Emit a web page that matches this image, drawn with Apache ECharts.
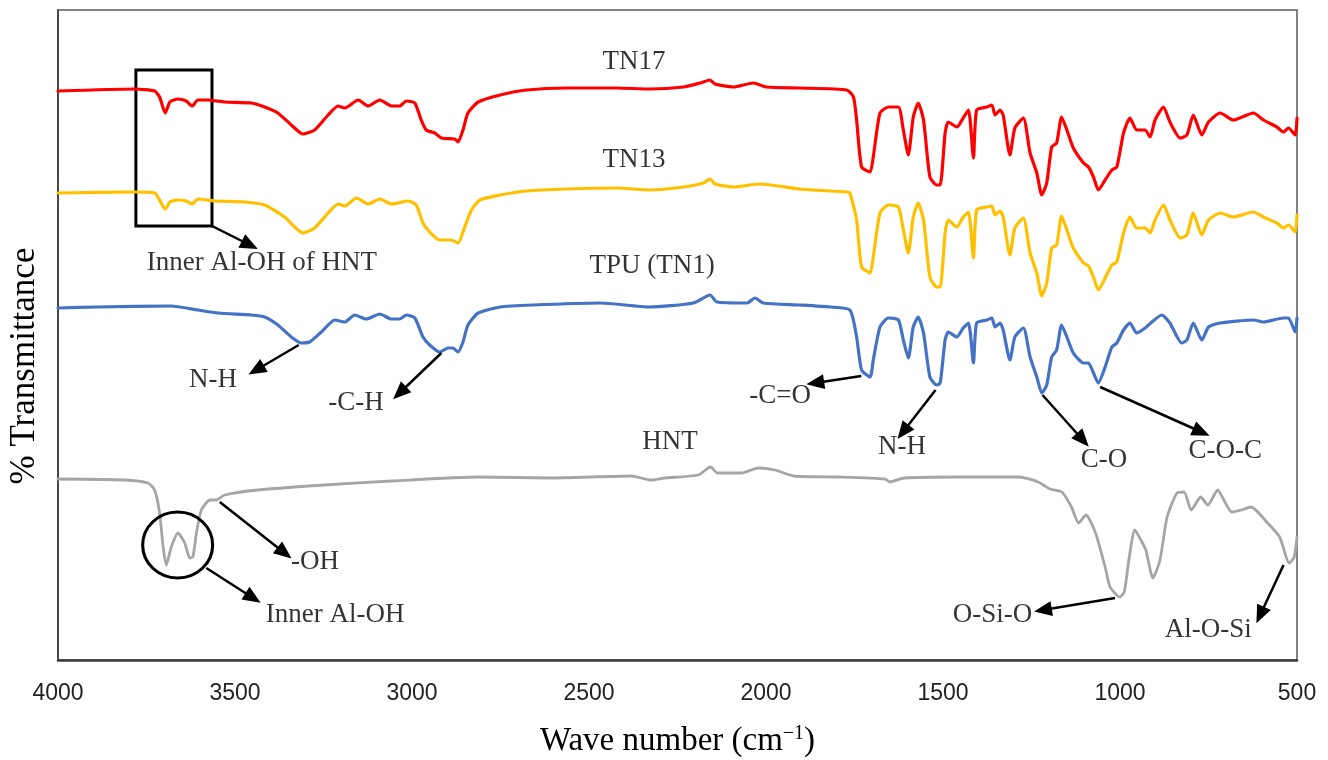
<!DOCTYPE html>
<html>
<head>
<meta charset="utf-8">
<title>FTIR spectra</title>
<script src="https://cdn.jsdelivr.net/npm/echarts@6/dist/echarts.min.js"></script>
<style>
  html, body { margin: 0; padding: 0; background: #fff; }
  #chart { width: 1328px; height: 760px; }
</style>
</head>
<body>
<div id="chart"></div>
<script>
// Wave number ticks (cm-1), drawn right-to-left
const waveTicks = [4000, 3500, 3000, 2500, 2000, 1500, 1000, 500];

// Spectra: [wave number, % transmittance (stacked, arbitrary offset)]
const TN17 = [[4000,56.9],[3783,57.1],[3727,56.9],[3713,56.3],[3697,54.7],[3684,55.8],[3661,56.1],[3638,55.9],[3621,55.4],[3605,56.0],[3576,56.0],[3529,55.8],[3454,55.7],[3416,55.3],[3379,54.7],[3341,53.5],[3308,52.6],[3275,53.0],[3237,54.5],[3209,55.4],[3190,55.2],[3152,56.0],[3124,55.4],[3091,56.0],[3058,55.4],[3035,55.4],[3016,55.9],[2992,55.7],[2974,54.0],[2960,53.0],[2936,52.7],[2917,52.2],[2879,52.1],[2870,51.8],[2856,53.0],[2842,54.7],[2813,55.8],[2751,56.5],[2676,57.0],[2563,57.2],[2422,57.2],[2328,57.1],[2233,57.3],[2186,57.7],[2158,58.0],[2144,57.6],[2092,57.3],[2036,57.7],[1998,57.3],[1904,57.2],[1772,57.0],[1753,56.3],[1744,54.0],[1730,49.3],[1706,48.8],[1697,50.3],[1678,54.7],[1654,55.3],[1626,55.3],[1612,53.0],[1598,50.5],[1584,54.3],[1570,55.7],[1555,54.0],[1537,48.3],[1518,47.5],[1508,47.5],[1494,52.7],[1485,53.8],[1461,53.3],[1443,54.2],[1428,55.0],[1414,50.2],[1405,55.0],[1376,55.3],[1362,55.5],[1353,54.5],[1339,55.0],[1330,54.5],[1311,50.5],[1297,53.2],[1273,54.2],[1254,50.7],[1235,48.7],[1221,46.5],[1207,47.7],[1193,51.3],[1179,51.7],[1165,54.3],[1150,53.0],[1132,51.2],[1103,49.7],[1089,49.3],[1075,48.3],[1061,47.0],[1042,48.0],[1023,49.0],[1009,49.3],[990,52.7],[972,54.2],[953,53.0],[929,53.0],[915,52.3],[901,54.0],[877,55.3],[859,53.8],[830,52.2],[811,52.5],[793,54.5],[769,52.5],[750,53.8],[717,54.7],[680,54.0],[623,54.7],[595,54.0],[557,53.3],[538,52.8],[524,53.2],[505,52.5],[500,54.2]];

const TN13 = [[4000,46.7],[3783,46.8],[3727,46.7],[3697,45.1],[3684,45.8],[3661,46.0],[3638,45.9],[3621,45.6],[3605,46.1],[3557,45.9],[3473,45.8],[3416,45.5],[3360,44.3],[3308,42.7],[3275,43.2],[3237,44.7],[3209,45.6],[3190,45.4],[3157,46.2],[3124,45.6],[3091,46.1],[3058,45.6],[3040,45.7],[3011,45.9],[2988,45.5],[2969,43.7],[2950,42.8],[2922,42.0],[2889,42.0],[2870,41.7],[2851,43.3],[2832,45.0],[2808,46.0],[2751,46.5],[2676,46.9],[2563,47.1],[2422,47.2],[2328,47.0],[2233,47.3],[2177,47.7],[2158,48.1],[2144,47.6],[2092,47.3],[2017,47.6],[1904,47.1],[1772,46.8],[1763,46.7],[1744,44.0],[1730,39.3],[1706,38.7],[1697,40.3],[1678,44.7],[1654,45.5],[1626,45.3],[1612,43.0],[1598,40.7],[1584,44.3],[1570,45.7],[1555,44.0],[1537,38.3],[1518,37.3],[1508,37.3],[1494,42.7],[1485,44.0],[1461,43.3],[1443,44.3],[1428,44.8],[1414,40.2],[1405,45.0],[1376,45.3],[1362,45.4],[1353,44.5],[1339,44.9],[1330,44.3],[1311,40.5],[1297,43.2],[1273,44.2],[1254,40.7],[1235,38.7],[1221,36.4],[1207,37.7],[1193,41.2],[1179,41.5],[1165,44.4],[1150,43.0],[1132,41.2],[1103,39.7],[1089,39.4],[1075,38.3],[1061,37.0],[1042,38.2],[1023,39.5],[1009,39.8],[990,42.7],[972,44.3],[953,43.2],[929,43.2],[915,42.7],[901,44.0],[877,45.5],[859,44.0],[830,42.2],[811,42.5],[793,44.7],[769,42.5],[750,44.0],[717,44.7],[680,44.3],[623,44.8],[595,44.3],[557,43.7],[538,43.2],[524,43.5],[505,42.8],[500,44.5]];

const TN1 = [[4000,35.2],[3887,35.3],[3680,35.4],[3605,35.0],[3548,34.7],[3454,34.5],[3416,34.3],[3379,33.5],[3341,32.3],[3313,31.7],[3289,31.8],[3256,32.8],[3218,34.0],[3190,33.8],[3162,34.5],[3129,34.1],[3091,34.6],[3058,34.1],[3035,34.1],[3016,34.5],[2992,34.2],[2969,32.3],[2950,31.5],[2922,30.8],[2898,31.2],[2884,31.2],[2870,30.8],[2856,31.8],[2842,33.5],[2813,34.7],[2751,35.3],[2658,35.5],[2469,35.7],[2328,35.3],[2205,35.7],[2158,36.5],[2139,35.8],[2054,35.7],[2031,36.2],[2008,35.7],[1904,35.5],[1819,35.3],[1763,35.0],[1744,32.3],[1730,29.0],[1706,28.3],[1697,30.0],[1678,33.3],[1654,34.2],[1626,34.0],[1612,32.0],[1598,30.2],[1584,33.3],[1570,34.3],[1555,32.7],[1537,28.3],[1518,27.5],[1508,27.7],[1494,32.0],[1485,32.8],[1461,32.3],[1443,33.2],[1428,33.7],[1414,29.7],[1405,33.7],[1376,34.0],[1362,34.2],[1353,33.3],[1339,33.7],[1330,33.0],[1311,30.0],[1297,32.3],[1273,33.2],[1254,30.3],[1235,28.3],[1221,26.7],[1207,27.5],[1193,30.3],[1179,31.0],[1165,33.5],[1150,32.3],[1132,30.7],[1103,29.7],[1089,29.7],[1075,28.7],[1061,27.7],[1042,29.3],[1023,31.3],[1009,31.7],[990,33.0],[972,33.7],[953,32.7],[929,33.2],[910,33.8],[882,34.5],[859,33.7],[826,31.7],[811,32.0],[793,33.7],[769,32.0],[750,33.3],[717,33.7],[623,34.0],[595,33.8],[538,34.2],[524,34.2],[505,32.8],[500,34.2]];

const HNT = [[4000,18.1],[3812,18.0],[3746,17.7],[3727,17.0],[3713,14.7],[3703,11.3],[3694,9.5],[3680,11.3],[3661,12.7],[3642,11.7],[3628,10.2],[3619,10.3],[3609,12.7],[3595,15.0],[3571,16.0],[3553,16.0],[3529,16.5],[3435,17.0],[3247,17.5],[3058,17.9],[2813,18.3],[2610,18.2],[2380,18.4],[2326,18.0],[2286,18.2],[2191,18.5],[2157,19.3],[2137,18.7],[2069,18.7],[2022,19.2],[1975,19.0],[1921,18.4],[1799,18.3],[1664,18.1],[1650,17.8],[1610,18.2],[1461,18.3],[1285,18.3],[1231,17.8],[1198,17.1],[1164,16.8],[1137,15.3],[1117,13.7],[1096,14.5],[1069,12.7],[1042,9.3],[1028,7.3],[1001,6.3],[988,6.8],[975,10.0],[958,13.0],[941,12.0],[927,11.0],[907,8.2],[887,10.0],[867,14.3],[839,16.7],[819,16.8],[799,15.0],[772,16.3],[752,15.5],[724,17.0],[711,16.3],[684,14.8],[657,15.0],[630,15.3],[583,13.7],[549,12.3],[522,9.7],[508,10.3],[500,12.3]];

// Text notes anchored in data space: [wave number, transmittance, text]
const notes = [
  [2373, 59.8, 'TN17'],
  [2373, 50.0, 'TN13'],
  [2322, 39.4, 'TPU (TN1)'],
  [2271, 21.8, 'HNT'],
  [3424, 39.7, 'Inner Al-OH of HNT'],
  [3562, 28.0, 'N-H'],
  [3158, 25.7, '-C-H'],
  [1960, 26.4, '-C=O'],
  [1616, 21.3, 'N-H'],
  [1045, 20.0, 'C-O'],
  [703, 20.9, 'C-O-C'],
  [3274, 9.8, '-OH'],
  [3217, 4.5, 'Inner Al-OH'],
  [1360, 4.5, 'O-Si-O'],
  [751, 3.0, 'Al-O-Si']
];

// Pointer arrows: [from wave, from T, to wave, to T]
const arrows = [
  [3565, 43.4, 3458, 41.5],
  [3320, 31.5, 3440, 29.0],
  [2917, 30.7, 3035, 26.7],
  [1731, 28.4, 1861, 27.7],
  [1521, 27.0, 1613, 22.8],
  [1219, 26.5, 1105, 22.0],
  [1056, 27.3, 770, 22.8],
  [3543, 15.8, 3360, 10.7],
  [3581, 9.2, 3449, 6.2],
  [1014, 6.2, 1218, 5.0],
  [538, 9.5, 604, 4.5]
];

// Highlight box around the Al-OH bands of the composites, and circle on HNT
const boxCorners = [[3780, 59.0], [3565, 43.4]];
const circleCenter = [3662, 11.5];

const serifFont = '"Liberation Serif", "Times New Roman", serif';
const chart = echarts.init(document.getElementById('chart'), null, { renderer: 'canvas' });

function spectrum(name, data, color, width) {
  return {
    name: name,
    type: 'line',
    data: data,
    showSymbol: false,
    symbol: 'none',
    smooth: 0.2,
    silent: true,
    lineStyle: { color: color, width: width, cap: 'round', join: 'round' },
    z: 2
  };
}

const option = {
  animation: false,
  backgroundColor: '#ffffff',
  grid: {
    left: 58, right: 31, top: 10, height: 650,
    outerBoundsMode: 'none',
    containLabel: false,
    show: true, borderColor: '#5a5a5a', borderWidth: 1.5, backgroundColor: 'transparent'
  },
  xAxis: {
    type: 'value',
    inverse: true,
    min: 500, max: 4000, interval: 500,
    axisLine: { show: true, onZero: false, lineStyle: { color: '#3a3a3a', width: 2.5 } },
    axisTick: { show: false },
    splitLine: { show: false },
    axisLabel: {
      margin: 22,
      fontFamily: '"Liberation Sans", Arial, sans-serif',
      fontSize: 23,
      color: '#222',
      formatter: v => waveTicks.includes(v) ? String(v) : ''
    },
    name: 'Wave number (cm{sup|\u22121})',
    nameLocation: 'middle',
    nameGap: 64,
    nameTextStyle: {
      fontFamily: serifFont, fontSize: 33, color: '#000',
      rich: { sup: { fontFamily: serifFont, fontSize: 20, color: '#000', verticalAlign: 'top', padding: [0, 0, 14, 0] } }
    }
  },
  yAxis: {
    type: 'value',
    min: 0, max: 65,
    axisLine: { show: true, lineStyle: { color: '#4a4a4a', width: 2 } },
    axisTick: { show: false },
    axisLabel: { show: false },
    splitLine: { show: false }
  },
  graphic: [{
    type: 'text',
    x: 25, y: 366,
    rotation: Math.PI / 2,
    style: {
      text: '% Transmittance',
      x: 0, y: 0,
      align: 'center', verticalAlign: 'middle',
      font: '35px ' + serifFont,
      fill: '#000'
    }
  }],
  series: [
    spectrum('TN17', TN17, '#ff0000', 3.2),
    spectrum('TN13', TN13, '#ffc000', 3.2),
    spectrum('TPU (TN1)', TN1, '#4472c4', 3.2),
    spectrum('HNT', HNT, '#a5a5a5', 2.8),
    {
      name: 'notes',
      type: 'scatter',
      silent: true,
      z: 5,
      data: notes.map(n => ({ value: [n[0], n[1]], text: n[2] })),
      symbolSize: 2,
      itemStyle: { color: 'rgba(0,0,0,0)' },
      label: {
        show: true,
        position: 'inside',
        formatter: p => p.data.text,
        fontFamily: serifFont,
        fontSize: 27,
        color: '#000',
        textBorderWidth: 0
      },
      markLine: {
        silent: true,
        symbol: ['none', 'triangle'],
        symbolSize: [15, 18],
        label: { show: false },
        lineStyle: { color: '#000', width: 2.5, type: 'solid' },
        emphasis: { disabled: true },
        data: arrows.map(a => [{ coord: [a[0], a[1]] }, { coord: [a[2], a[3]] }])
      },
      markArea: {
        silent: true,
        itemStyle: { color: 'rgba(0,0,0,0)', borderColor: '#000', borderWidth: 3 },
        label: { show: false },
        data: [[{ coord: boxCorners[0] }, { coord: boxCorners[1] }]]
      },
      markPoint: {
        silent: true,
        label: { show: false },
        data: [{
          coord: circleCenter,
          symbol: 'circle',
          symbolSize: [70, 66],
          itemStyle: { color: 'rgba(0,0,0,0)', borderColor: '#000', borderWidth: 3 }
        }]
      }
    }
  ]
};

chart.setOption(option);
</script>
</body>
</html>
